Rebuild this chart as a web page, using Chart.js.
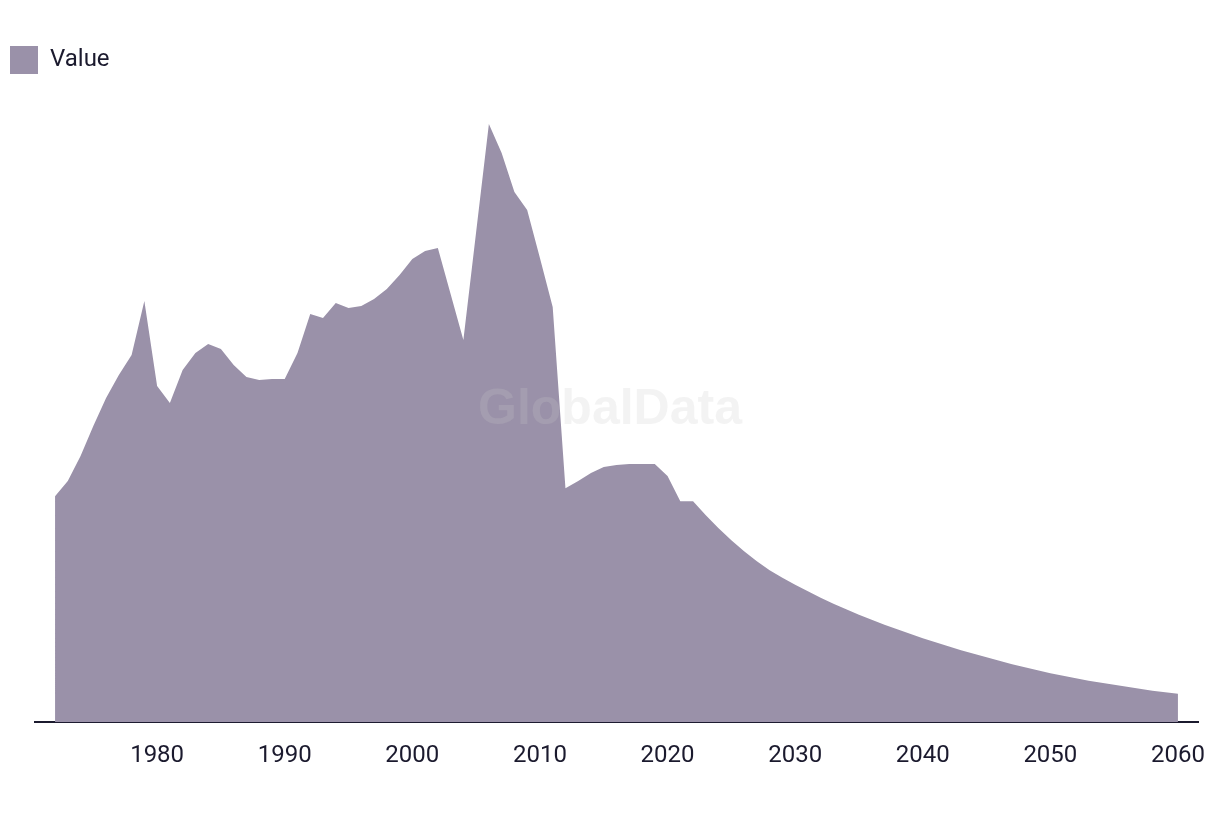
<!DOCTYPE html>
<html>
<head>
<meta charset="utf-8">
<script src="https://cdn.jsdelivr.net/npm/chart.js@4"></script>
<style>
  html, body { margin: 0; padding: 0; background: #fff; }
  #wrap { width: 1220px; height: 816px; }
</style>
</head>
<body>
<div id="wrap"><canvas id="areaChart" width="1220" height="816"></canvas></div>
<script>
const years = [
  1972, 1973, 1974, 1975, 1976, 1977, 1978, 1979, 1980, 1981,
  1982, 1983, 1984, 1985, 1986, 1987, 1988, 1989, 1990, 1991,
  1992, 1993, 1994, 1995, 1996, 1997, 1998, 1999, 2000, 2001,
  2002, 2003, 2004, 2005, 2006, 2007, 2008, 2009, 2010, 2011,
  2012, 2013, 2014, 2015, 2016, 2017, 2018, 2019, 2020, 2021,
  2022, 2023, 2024, 2025, 2026, 2027, 2028, 2029, 2030, 2031,
  2032, 2033, 2034, 2035, 2036, 2037, 2038, 2039, 2040, 2041,
  2042, 2043, 2044, 2045, 2046, 2047, 2048, 2049, 2050, 2051,
  2052, 2053, 2054, 2055, 2056, 2057, 2058, 2059, 2060
];
const values = [
  226, 241, 266, 296, 324, 347, 367, 421, 336, 319,
  352, 369, 378, 373, 357, 345, 342, 343, 343, 369,
  408, 404, 419, 414, 416, 423, 433, 447, 463, 471,
  474, 428, 382, 490, 598, 569, 530, 512, 464, 415,
  234, 241, 249, 255, 257, 258, 258, 258, 246, 221,
  221, 207, 194, 182, 171, 161, 152, 144.5, 137.5, 131,
  124.5, 118.5, 113, 107.5, 102.5, 97.5, 93, 88.5, 84, 80,
  76, 72, 68.5, 65, 61.5, 58, 55, 52, 49, 46.5,
  44, 41.5, 39.5, 37.5, 35.5, 33.5, 31.5, 30, 28.5
];
const tickYears = [1980, 1990, 2000, 2010, 2020, 2030, 2040, 2050, 2060];

const fillColor = '#9a91a9';
const inkColor = '#1b1a2e';

// faint watermark over the plot
const watermark = {
  id: 'watermark',
  afterDatasetsDraw(chart) {
    const ctx = chart.ctx;
    ctx.save();
    ctx.font = 'bold 50px "Liberation Sans", Arial, sans-serif';
    ctx.fillStyle = 'rgba(200, 200, 200, 0.22)';
    ctx.textAlign = 'center';
    ctx.textBaseline = 'middle';
    ctx.fillText('GlobalData', 610, 410);
    ctx.restore();
  }
};

new Chart(document.getElementById('areaChart').getContext('2d'), {
  type: 'line',
  data: {
    datasets: [{
      label: 'Value',
      data: years.map((y, i) => ({ x: y, y: values[i] })),
      backgroundColor: fillColor,
      borderColor: fillColor,
      borderWidth: 0,
      fill: 'origin',
      tension: 0,
      pointRadius: 0
    }]
  },
  options: {
    responsive: false,
    animation: false,
    layout: { padding: { top: 36, left: 0, right: 22, bottom: 27 } },
    plugins: {
      legend: {
        display: true,
        position: 'top',
        align: 'start',
        labels: {
          boxWidth: 28,
          boxHeight: 28,
          color: inkColor,
          font: { family: 'Roboto', size: 24 }
        }
      },
      tooltip: { enabled: false }
    },
    scales: {
      x: {
        type: 'linear',
        min: 1970.43,
        max: 2061.57,
        afterBuildTicks: axis => { axis.ticks = tickYears.map(v => ({ value: v })); },
        // labels sit inside the range, no extra side padding needed
        afterFit: scale => { scale.paddingLeft = 0; scale.paddingRight = 0; },
        grid: { display: false, drawTicks: false },
        border: { display: true, color: inkColor, width: 2 },
        ticks: {
          padding: 19,
          color: inkColor,
          maxRotation: 0,
          autoSkip: false,
          font: { family: 'Roboto', size: 24 },
          callback: v => String(v)
        }
      },
      y: {
        // invisible axis, only reserves the left margin
        display: true,
        min: 0,
        max: 638,
        grid: { display: false, drawTicks: false },
        border: { display: false },
        ticks: { display: false },
        afterFit: scale => { scale.width = 35; }
      }
    }
  },
  plugins: [watermark]
});
</script>
</body>
</html>
